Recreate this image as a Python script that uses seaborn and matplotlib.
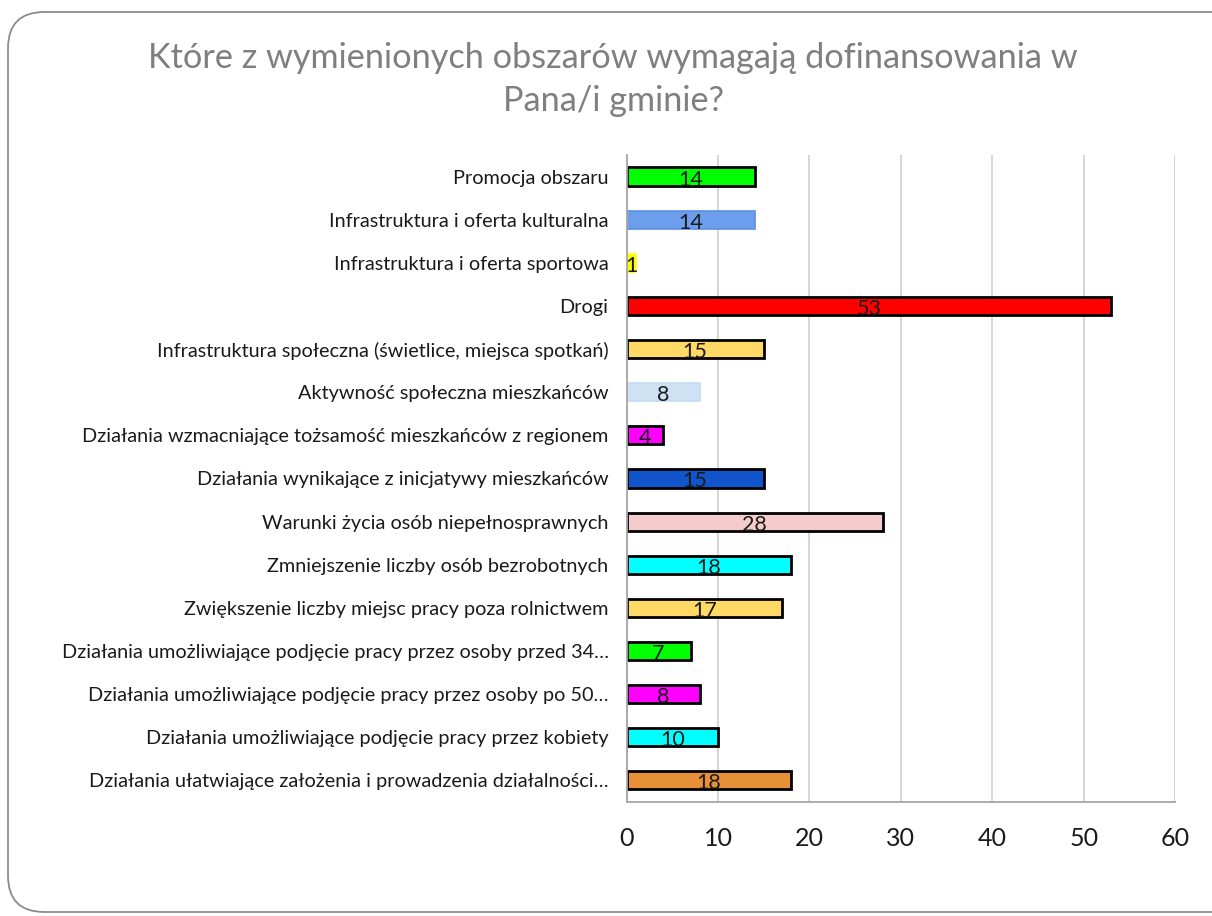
import matplotlib
matplotlib.use("Agg")
import matplotlib.pyplot as plt
from matplotlib.patches import FancyBboxPatch
import seaborn as sns
import pandas as pd

# dane z wykresu
categories = [
    "Promocja obszaru",
    "Infrastruktura i oferta kulturalna",
    "Infrastruktura i oferta sportowa",
    "Drogi",
    "Infrastruktura społeczna (świetlice, miejsca spotkań)",
    "Aktywność społeczna mieszkańców",
    "Działania wzmacniające tożsamość mieszkańców z regionem",
    "Działania wynikające z inicjatywy mieszkańców",
    "Warunki życia osób niepełnosprawnych",
    "Zmniejszenie liczby osób bezrobotnych",
    "Zwiększenie liczby miejsc pracy poza rolnictwem",
    "Działania umożliwiające podjęcie pracy przez osoby przed 34…",
    "Działania umożliwiające podjęcie pracy przez osoby po 50…",
    "Działania umożliwiające podjęcie pracy przez kobiety",
    "Działania ułatwiające założenia i prowadzenia działalności…",
]
values = [14, 14, 1, 53, 15, 8, 4, 15, 28, 18, 17, 7, 8, 10, 18]
x_ticks = [0, 10, 20, 30, 40, 50, 60]
title = "Które z wymienionych obszarów wymagają dofinansowania w\nPana/i gminie?"

# kolory słupków
fill_colors = ["#00ff00", "#6d9eeb", "#ffff00", "#ff0000", "#ffd966", "#cfe2f3",
               "#ff00ff", "#1155cc", "#f4cccc", "#00ffff", "#ffd966", "#00ff00",
               "#ff00ff", "#00ffff", "#e69138"]
edge_colors = ["black", "#5b8ee6", "#ffff00", "black", "black", "#c5dcf1",
               "black", "black", "black", "black", "black", "black",
               "black", "black", "black"]

sns.set_theme(style="white")
plt.rcParams['font.family'] = ['Lato', 'DejaVu Sans']

df = pd.DataFrame({"kategoria": categories, "liczba": values})

fig = plt.figure(figsize=(12.12, 9.16), dpi=100)
ax = fig.add_axes([0.517, 0.1245, 0.4525, 0.7063])

sns.barplot(data=df, y="kategoria", x="liczba", hue="kategoria",
            palette=fill_colors, legend=False, orient="h", width=0.42,
            saturation=1, ax=ax)

for bar, ec in zip(ax.patches, edge_colors):
    bar.set_edgecolor(ec)
    bar.set_linewidth(2 if ec == "black" else 1.2)

# etykiety wartości
for bar, v in zip(ax.patches, values):
    ax.text(bar.get_x() + bar.get_width() / 2, bar.get_y() + bar.get_height() / 2 + 0.07,
            str(v), ha="center", va="center", fontsize=15.5, color="#1a1a1a")

ax.set_xlim(0, 60)
ax.set_ylim(len(categories) - 0.5, -0.5)
ax.set_xticks(x_ticks)
ax.set_xlabel("")
ax.set_ylabel("")
ax.xaxis.grid(True, color="#d0d0d0", linewidth=1.2)
ax.set_axisbelow(True)
for side in ["top", "right"]:
    ax.spines[side].set_visible(False)
for side in ["left", "bottom"]:
    ax.spines[side].set_color("#a6a6a6")
    ax.spines[side].set_linewidth(1.3)
ax.tick_params(axis="x", length=0, pad=18, labelsize=18, labelcolor="#1a1a1a")
ax.tick_params(axis="y", length=0, pad=13, labelsize=14.3, labelcolor="#1a1a1a")

fig.text(0.506, 0.913, title, ha="center", va="center", fontsize=24.7,
         color="#7f7f7f", linespacing=1.42)

# zaokrąglona ramka slajdu
frame = FancyBboxPatch((8 / 1212, 4 / 916), 1.03, 1 - 16 / 916,
                       boxstyle="round,pad=0,rounding_size=0.03",
                       transform=fig.transFigure, fill=False,
                       edgecolor="#8c8c8c", linewidth=1.3, mutation_aspect=1212 / 916)
fig.patches.append(frame)

plt.savefig("out.png", dpi=100)
